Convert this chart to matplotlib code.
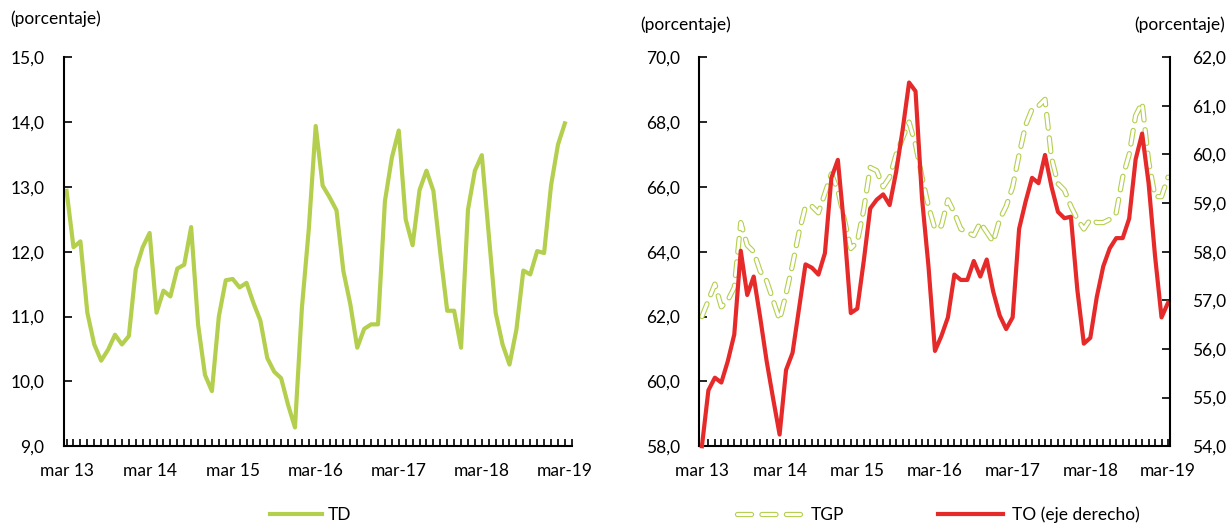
import matplotlib

matplotlib.use("Agg")

import matplotlib.pyplot as plt  # noqa: E402
import matplotlib.patheffects as pe  # noqa: E402
from matplotlib.lines import Line2D  # noqa: E402
from matplotlib.ticker import FuncFormatter, MultipleLocator  # noqa: E402

# monthly series, mar 2013 .. mar 2019 (73 points)
td = [12.94, 12.07, 12.16, 11.06, 10.57, 10.32, 10.49, 10.72, 10.57, 10.70,
      11.73, 12.07, 12.29, 11.06, 11.40, 11.31, 11.74, 11.80, 12.38, 10.88,
      10.10, 9.85, 11.00, 11.56, 11.58, 11.45, 11.52, 11.21, 10.94, 10.36,
      10.15, 10.05, 9.64, 9.29, 11.13, 12.35, 13.94, 13.02, 12.84, 12.64,
      11.70, 11.19, 10.52, 10.81, 10.88, 10.88, 12.78, 13.45, 13.87, 12.50,
      12.10, 12.95, 13.25, 12.94, 11.98, 11.09, 11.09, 10.52, 12.65, 13.25,
      13.49, 12.27, 11.06, 10.57, 10.26, 10.80, 11.71, 11.65, 12.01, 11.98,
      13.02, 13.65, 13.98]

tgp = [62.0, 62.5, 63.0, 62.3, 62.5, 62.9, 64.9, 64.2, 64.0, 63.4,
       63.1, 62.5, 61.9, 62.7, 63.6, 64.6, 65.4, 65.4, 65.2, 65.8,
       66.4, 65.9, 65.0, 64.1, 64.3, 65.3, 66.6, 66.5, 66.0, 66.3,
       67.0, 67.5, 68.0, 67.3, 66.3, 65.4, 64.7, 64.8, 65.6, 65.2,
       64.7, 64.6, 64.5, 64.9, 64.6, 64.3, 65.0, 65.4, 66.0, 67.0,
       67.9, 68.4, 68.5, 68.7, 66.9, 66.1, 65.9, 65.4, 65.0, 64.7,
       65.0, 64.9, 64.9, 65.0, 65.2, 66.3, 67.0, 68.2, 68.6, 66.8,
       65.7, 65.7, 66.3]

to = [54.0, 55.15, 55.41, 55.31, 55.75, 56.30, 58.02, 57.11, 57.49, 56.65,
      55.75, 54.98, 54.24, 55.57, 55.92, 56.83, 57.74, 57.67, 57.53, 57.97,
      59.52, 59.89, 58.47, 56.74, 56.83, 57.81, 58.89, 59.07, 59.18, 58.96,
      59.64, 60.50, 61.48, 61.30, 59.10, 57.70, 55.96, 56.27, 56.65, 57.53,
      57.42, 57.42, 57.81, 57.49, 57.84, 57.18, 56.69, 56.41, 56.65, 58.47,
      59.03, 59.52, 59.41, 59.99, 59.34, 58.82, 58.69, 58.72, 57.21, 56.11,
      56.23, 57.07, 57.70, 58.07, 58.28, 58.28, 58.68, 59.90, 60.43, 59.41,
      57.91, 56.65, 56.95]

year_labels = ["mar 13", "mar 14", "mar 15", "mar-16", "mar-17", "mar-18", "mar-19"]

GREEN = "#b3cf4d"
RED = "#e62a2a"
FS = 12.5

plt.rcParams["font.family"] = ["Lato", "DejaVu Sans"]
plt.rcParams["font.size"] = FS

months = list(range(len(td)))
comma = FuncFormatter(lambda v, _: f"{v:.1f}".replace(".", ","))
outline = [pe.Stroke(linewidth=3.8, foreground=GREEN), pe.Normal()]


def style_axes(ax):
    ax.set_xticks(range(0, 73, 12))
    ax.set_xticklabels(year_labels)
    ax.xaxis.set_minor_locator(MultipleLocator(1))
    ax.tick_params(axis="x", which="both", direction="in", length=5, width=1.2, pad=12)
    ax.tick_params(axis="y", direction="in", length=6, width=1.2, pad=14)
    ax.yaxis.set_major_formatter(comma)
    for s in ("top", "right"):
        ax.spines[s].set_visible(False)
    for s in ("left", "bottom"):
        ax.spines[s].set_linewidth(1.5)


fig = plt.figure(figsize=(12.27, 5.25), dpi=100)

# left panel: TD
ax1 = fig.add_axes([0.052, 0.150, 0.414, 0.741])
ax1.plot(months, td, color=GREEN, lw=3.0, label="TD")
ax1.set_xlim(-0.4, 73.0)
ax1.set_ylim(9, 15)
ax1.yaxis.set_major_locator(MultipleLocator(1))
style_axes(ax1)
ax1.legend(loc="center", bbox_to_anchor=(0.486, -0.177), frameon=False,
           handlelength=3.0, handletextpad=0.35, borderpad=0, fontsize=FS)
fig.text(0.008, 0.965, "(porcentaje)", fontsize=FS, va="center")

# right panel: TGP (left axis), TO (right axis)
ax2 = fig.add_axes([0.570, 0.150, 0.3835, 0.741])
ax2.plot(months, tgp, color="white", lw=2.2, dashes=(4.5, 3.2),
         dash_capstyle="round", path_effects=outline)
ax2.set_xlim(-0.39, 72.3)
ax2.set_ylim(58, 70)
ax2.yaxis.set_major_locator(MultipleLocator(2))
style_axes(ax2)

ax3 = ax2.twinx()
to_line, = ax3.plot(months, to, color=RED, lw=3.0, clip_on=False)
ax3.set_ylim(54, 62)
ax3.yaxis.set_major_locator(MultipleLocator(1))
ax3.yaxis.set_major_formatter(comma)
ax3.tick_params(axis="y", direction="in", length=6, width=1.2, pad=16)
for s in ("top", "left", "bottom"):
    ax3.spines[s].set_visible(False)
ax3.spines["right"].set_linewidth(1.5)

# legend proxy so that three whole dashes fit the handle
tgp_handle = Line2D([], [], color="white", lw=2.2, dashes=(4.6, 3.4),
                    dash_capstyle="round", path_effects=outline)
ax2.legend([tgp_handle, to_line], ["TGP", "TO (eje derecho)"], loc="center",
           bbox_to_anchor=(0.508, -0.177), frameon=False, ncol=2, handlelength=3.75,
           handletextpad=0.5, columnspacing=5.4, borderpad=0, fontsize=FS)
fig.text(0.522, 0.952, "(porcentaje)", fontsize=FS, va="center")
fig.text(0.998, 0.952, "(porcentaje)", fontsize=FS, va="center", ha="right")

fig.savefig("out.png", dpi=100)
plt.close(fig)
